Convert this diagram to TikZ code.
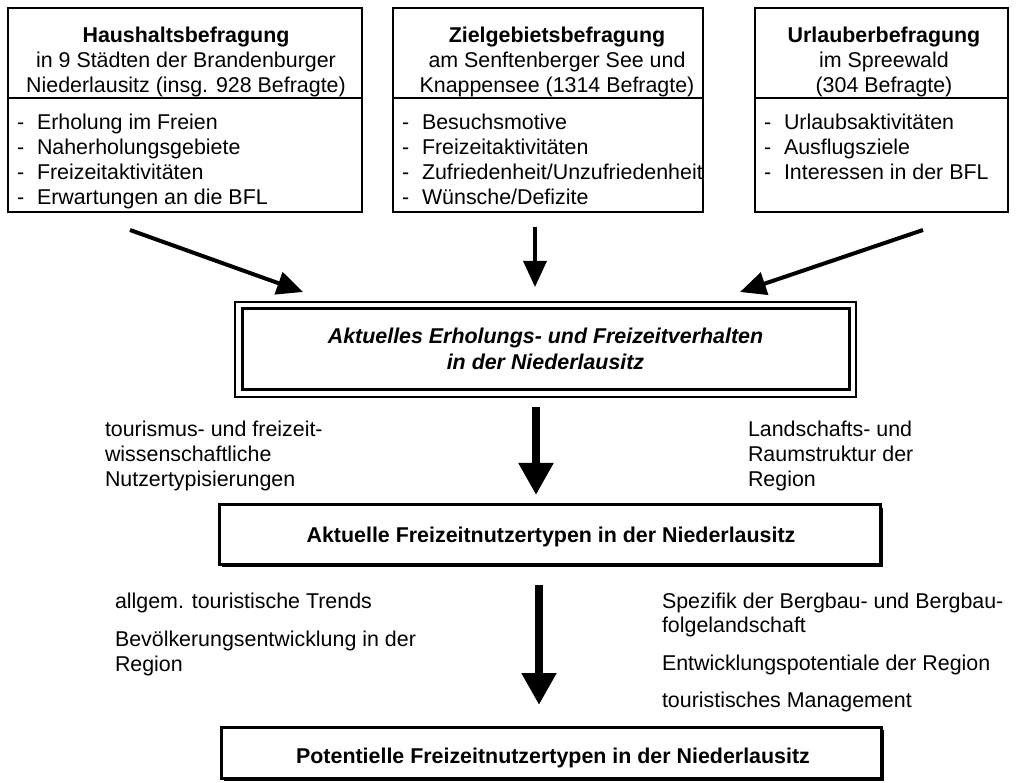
\documentclass[tikz,border=0pt]{standalone}
\usepackage{fontspec}
\setmainfont{Liberation Sans}
\usetikzlibrary{arrows.meta,shadows}
\begin{document}
\begin{tikzpicture}[x=1pt,y=-1pt,
  every node/.style={inner sep=0pt, outer sep=0pt},
  txt/.style={font=\fontsize{21.4}{25}\selectfont, anchor=base},
  txtl/.style={txt, anchor=base west},
  txtb/.style={font=\fontsize{21.4}{25}\selectfont\bfseries, anchor=base},
  txtbi/.style={font=\fontsize{21.4}{25}\selectfont\bfseries\itshape, anchor=base},
  topbox/.style={draw, line width=2.2pt, fill=white},
  divider/.style={line width=1.2pt},
  flowbox/.style={draw, line width=3pt, fill=white,
    drop shadow={shadow xshift=3pt, shadow yshift=-3pt, fill=black, opacity=1}},
  thinarrow/.style={line width=4pt, -{Triangle[length=26pt,width=23pt]}},
  bigarrow/.style={line width=8pt, -{Triangle[length=32pt,width=33pt]}}
]
\useasboundingbox[fill=white] (0,0) rectangle (1018,783);

% ---------- top boxes ----------
\node[topbox, minimum width=354pt, minimum height=204pt] (hb) at (185,110) {};
\node[topbox, minimum width=310pt, minimum height=204pt] (zb) at (548,110) {};
\node[topbox, minimum width=253pt, minimum height=204pt] (ub) at (881.5,110) {};
\draw[divider] (hb.west |- 0,98) -- (hb.east |- 0,98);
\draw[divider] (zb.west |- 0,98) -- (zb.east |- 0,98);
\draw[divider] (ub.west |- 0,98) -- (ub.east |- 0,98);

% box 1
\node[txtb] (h1) at (186,43) {Haushaltsbefragung};
\node[txt] (h2) at (186,68) {in 9 Städten der Brandenburger};
\node[txt] (h3) at (186,93) {Niederlausitz (insg. 928 Befragte)};
\node[txtl] (hd1) at (17,130) {-};
\node[txtl] (hd2) at (17,155) {-};
\node[txtl] (hd3) at (17,180) {-};
\node[txtl] (hd4) at (17,205) {-};
\node[txtl] (hi1) at (37,130) {Erholung im Freien};
\node[txtl] (hi2) at (37,155) {Naherholungsgebiete};
\node[txtl] (hi3) at (37,180) {Freizeitaktivitäten};
\node[txtl] (hi4) at (37,205) {Erwartungen an die BFL};

% box 2
\node[txtb] (z1) at (557,43) {Zielgebietsbefragung};
\node[txt] (z2) at (557,68) {am Senftenberger See und};
\node[txt] (z3) at (557,93) {Knappensee (1314 Befragte)};
\node[txtl] (zd1) at (402,130) {-};
\node[txtl] (zd2) at (402,155) {-};
\node[txtl] (zd3) at (402,180) {-};
\node[txtl] (zd4) at (402,205) {-};
\node[txtl] (zi1) at (422,130) {Besuchsmotive};
\node[txtl] (zi2) at (422,155) {Freizeitaktivitäten};
\node[txtl] (zi3) at (422,180) {Zufriedenheit/Unzufriedenheit};
\node[txtl] (zi4) at (422,205) {Wünsche/Defizite};

% box 3
\node[txtb] (u1) at (884,43) {Urlauberbefragung};
\node[txt] (u2) at (884,68) {im Spreewald};
\node[txt] (u3) at (884,93) {(304 Befragte)};
\node[txtl] (ud1) at (764,130) {-};
\node[txtl] (ud2) at (764,155) {-};
\node[txtl] (ud3) at (764,180) {-};
\node[txtl] (ui1) at (784,130) {Urlaubsaktivitäten};
\node[txtl] (ui2) at (784,155) {Ausflugsziele};
\node[txtl] (ui3) at (784,180) {Interessen in der BFL};

% ---------- double box ----------
\node[draw, line width=1.5pt, fill=white, minimum width=621pt, minimum height=95pt] (ab) at (545.5,349.5) {};
\node[draw, line width=3pt, minimum width=607pt, minimum height=81pt] (abin) at (545.5,349) {};
\node[txtbi] (ab1) at (545.5,344) {Aktuelles Erholungs- und Freizeitverhalten};
\node[txtbi] (ab2) at (545.5,370) {in der Niederlausitz};

% top arrows
\coordinate (a1s) at (130,230); \coordinate (a1e) at (303,292);
\coordinate (a2s) at (535,227); \coordinate (a2e) at (535,287);
\coordinate (a3s) at (923,230); \coordinate (a3e) at (740,292);
\draw[thinarrow] (a1s) -- (a1e);
\draw[thinarrow, line width=3.5pt] (a2s) -- (a2e);
\draw[thinarrow] (a3s) -- (a3e);

% ---------- middle ----------
\node[txtl] (l11) at (105,437) {tourismus- und freizeit-};
\node[txtl] (l12) at (105,462) {wissenschaftliche};
\node[txtl] (l13) at (105,486) {Nutzertypisierungen};
\node[txtl] (r11) at (748,437) {Landschafts- und};
\node[txtl] (r12) at (748,462) {Raumstruktur der};
\node[txtl] (r13) at (748,486) {Region};

\node[flowbox, minimum width=661pt, minimum height=59pt] (af) at (549.5,534.5) {};
\node[txtb] (aft) at (551,542) {Aktuelle Freizeitnutzertypen in der Niederlausitz};

\coordinate (b1s) at (536,407); \coordinate (b1e) at (536,495);
\draw[bigarrow] (b1s) -- (b1e);

% ---------- lower ----------
\node[txtl] (l21) at (115,608) {allgem. touristische Trends};
\node[txtl] (l22) at (115,646) {Bevölkerungsentwicklung in der};
\node[txtl] (l23) at (115,671) {Region};
\node[txtl] (r21) at (662,608) {Spezifik der Bergbau- und Bergbau-};
\node[txtl] (r22) at (662,632) {folgelandschaft};
\node[txtl] (r23) at (662,670) {Entwicklungspotentiale der Region};
\node[txtl] (r24) at (662,707) {touristisches Management};

\node[flowbox, minimum width=660pt, minimum height=51pt] (pf) at (551,752.5) {};
\node[txtb] (pft) at (553,763) {Potentielle Freizeitnutzertypen in der Niederlausitz};

\coordinate (b2s) at (539,585); \coordinate (b2e) at (539,705);
\draw[bigarrow] (b2s) -- (b2e);
\end{tikzpicture}
\end{document}
